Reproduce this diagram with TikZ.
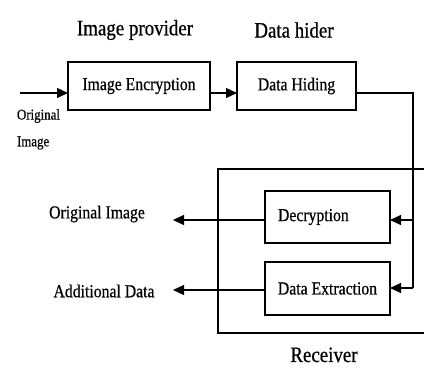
\documentclass[tikz,border=0pt]{standalone}
\usepackage{fontspec}
\setmainfont[FakeStretch=0.86,FakeBold=0.6]{Liberation Serif}
\usetikzlibrary{arrows.meta}
\tikzset{
  every node/.style={inner sep=0pt, outer sep=0pt},
  title/.style={font=\fontsize{22}{24}\selectfont},
  lbl/.style={font=\fontsize{18.3}{20}\selectfont},
  small/.style={font=\fontsize{15}{17}\selectfont},
  blockbox/.style={draw, line width=1.3pt, font=\fontsize{18.3}{20}\selectfont},
  conn/.style={line width=1.2pt},
  arr/.style={conn, -{Triangle[length=11pt,width=10pt]}},
}
\begin{document}
\begin{tikzpicture}[x=1pt,y=-1pt]
\useasboundingbox (0,0) rectangle (424,369);
% titles
\node[title] (tprov) at (135,30) {Image provider};
\node[title] (thider) at (294,30) {Data hider};
% top blocks
\node[blockbox, minimum width=142pt, minimum height=48pt] (enc) at (139,86) {Image Encryption};
\node[blockbox, minimum width=119pt, minimum height=48pt] (hid) at (296.5,86) {Data Hiding};
% input
\coordinate (in) at (20,93);
\node[small, anchor=west] (orig1) at (17,116) {Original};
\node[small, anchor=west] (orig2) at (17,143) {Image};
\draw[arr] (in) -- (in -| enc.west);
\draw[arr] (enc.east |- in) -- (hid.west |- in);
% receiver frame
\coordinate (rtl) at (218,169);
\coordinate (rbl) at (218,333);
\coordinate (rtr) at (424,169);
\coordinate (rbr) at (424,333);
\draw[line width=1.3pt] (rtr) -- (rtl) -- (rbl) -- (rbr);
\node[title, anchor=base] (recv) at (324,362) {Receiver};
% receiver blocks
\node[blockbox, text width=99pt, align=left, inner xsep=13pt, minimum height=52pt] (dec) at (327.5,217) {Decryption};
\node[blockbox, minimum width=125pt, minimum height=53pt] (ext) at (327.5,288.5) {Data Extraction};
% connectors from data hider
\coordinate (c1) at (413,93);
\coordinate (c2) at (413,220);
\coordinate (c3) at (413,288);
\draw[conn] (hid.east |- c1) -- (c1) -- (c3);
\draw[arr] (c3) -- (ext.east |- c3);
\draw[arr] (c2) -- (dec.east |- c2);
% outputs
\node[lbl] (oimg) at (97,214) {Original Image};
\node[lbl] (adata) at (104,291) {Additional Data};
\coordinate (o1) at (173,220);
\coordinate (o2) at (173,290);
\draw[arr] (dec.west |- o1) -- (o1);
\draw[arr] (ext.west |- o2) -- (o2);
\end{tikzpicture}
\end{document}
